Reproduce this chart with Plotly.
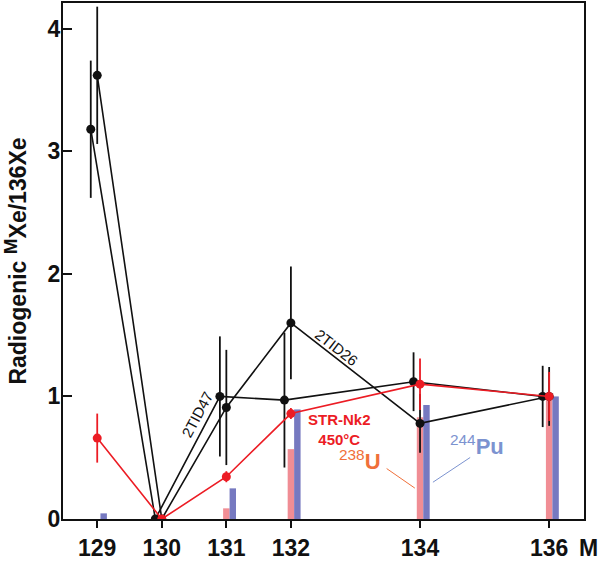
import plotly.graph_objects as go

masses = [129, 130, 131, 132, 134, 136]
tid47 = [3.18, 0.0, 1.00, 0.97, 1.12, 1.00]
tid47_err = [0.56, 0.0, 0.49, 0.55, 0.24, 0.25]
tid26 = [3.62, 0.0, 0.91, 1.60, 0.78, 1.00]
tid26_err = [0.56, 0.0, 0.47, 0.46, 0.24, 0.24]
strnk2 = [0.66, 0.0, 0.345, 0.86, 1.10, 1.00]
strnk2_err = [0.20, 0.0, 0.045, 0.045, 0.21, 0.20]
u238 = [0.0, 0.0, 0.087, 0.57, 0.83, 1.00]
pu244 = [0.046, 0.0, 0.25, 0.894, 0.93, 1.00]
tick_labels = ["129", "130", "131", "132", "134", "136"]

BLACK = "#111111"
RED = "#ec1c24"
PINK = "#ee7a82"
BLUE = "#6f72bd"
ORANGE = "#f0703a"
PUBLUE = "#7c93d0"
FONT = "Arial, Liberation Sans, sans-serif"

shift47 = -0.1

fig = go.Figure()

fig.add_trace(go.Scatter(
    x=[m + shift47 for m in masses], y=tid47, mode="lines+markers",
    line=dict(color=BLACK, width=1.6), marker=dict(color=BLACK, size=9),
    error_y=dict(type="data", array=tid47_err, color=BLACK, thickness=1.8, width=0),
    showlegend=False))
fig.add_trace(go.Scatter(
    x=masses, y=tid26, mode="lines+markers",
    line=dict(color=BLACK, width=1.6), marker=dict(color=BLACK, size=9),
    error_y=dict(type="data", array=tid26_err, color=BLACK, thickness=1.8, width=0),
    showlegend=False))
fig.add_trace(go.Scatter(
    x=masses, y=strnk2, mode="lines+markers",
    line=dict(color=RED, width=1.6), marker=dict(color=RED, size=9),
    error_y=dict(type="data", array=strnk2_err, color=RED, thickness=1.8, width=0),
    showlegend=False))

fig.add_trace(go.Bar(x=masses, y=u238, width=0.1, offset=-0.05,
                     marker=dict(color=PINK, line=dict(width=0)), opacity=0.85,
                     showlegend=False))
fig.add_trace(go.Bar(x=masses, y=pu244, width=0.1, offset=0.05,
                     marker=dict(color=BLUE, line=dict(width=0)), opacity=0.95,
                     showlegend=False))

annotations = [
    dict(x=-0.091, y=0.5, xref="paper", yref="paper", textangle=-90,
         xanchor="center", yanchor="middle", borderpad=0,
         text="<b>Radiogenic <sup><span style='font-size:19px'>M</span></sup>Xe/136Xe</b>",
         showarrow=False, font=dict(size=23, color=BLACK, family=FONT)),
    dict(x=130.55, y=0.85, text="2TID47", textangle=-62, showarrow=False,
         font=dict(size=15, color=BLACK, family=FONT)),
    dict(x=132.71, y=1.40, text="2TID26", textangle=37.6, showarrow=False,
         font=dict(size=15, color=BLACK, family=FONT)),
    dict(x=132.76, y=0.73, text="<b>STR-Nk2<br>450°C</b>", showarrow=False,
         font=dict(size=15, color=RED, family=FONT)),
    dict(x=133.92, y=0.252, ax=133.46, ay=0.42, axref="x", ayref="y",
         text="", showarrow=True, arrowhead=0, arrowwidth=1, arrowcolor=ORANGE),
    dict(x=133.07, y=0.48, text="<sup>238</sup><b>U</b>", showarrow=False,
         font=dict(size=22, color=ORANGE, family=FONT)),
    dict(x=134.20, y=0.30, ax=134.80, ay=0.51, axref="x", ayref="y",
         text="", showarrow=True, arrowhead=0, arrowwidth=1, arrowcolor=PUBLUE),
    dict(x=134.88, y=0.60, text="<sup>244</sup><b>Pu</b>", showarrow=False,
         font=dict(size=22, color=PUBLUE, family=FONT)),
    dict(x=1.0307, y=-0.085, xref="paper", yref="paper", text="<b>M</b>",
         showarrow=False, xanchor="right",
         font=dict(size=23, color=BLACK, family=FONT)),
]

fig.update_layout(
    width=600, height=562,
    margin=dict(l=63, r=16, t=1, b=43),
    plot_bgcolor="white", paper_bgcolor="white",
    barmode="overlay",
    font=dict(family=FONT, color=BLACK),
    annotations=annotations,
    xaxis=dict(range=[128.47, 136.54], tickvals=masses, ticktext=tick_labels,
               ticks="outside", ticklen=7, tickwidth=1.5, tickcolor=BLACK,
               showline=True, linecolor=BLACK, linewidth=2, mirror=True,
               showgrid=False, zeroline=False,
               tickfont=dict(size=23, family=FONT, color=BLACK, weight="bold")),
    yaxis=dict(range=[0, 4.21], tickvals=[0, 1, 2, 3, 4],
               ticks="inside", ticklen=9, tickwidth=1.5, tickcolor=BLACK,
               ticklabelstandoff=-4,
               showline=True, linecolor=BLACK, linewidth=2, mirror=True,
               showgrid=False, zeroline=False,
               tickfont=dict(size=23, family=FONT, color=BLACK, weight="bold")),
)

fig.write_html(
    "out.html",
    config={"displayModeBar": False},
    post_script="document.body.style.margin='0';document.body.style.padding='0';",
)
